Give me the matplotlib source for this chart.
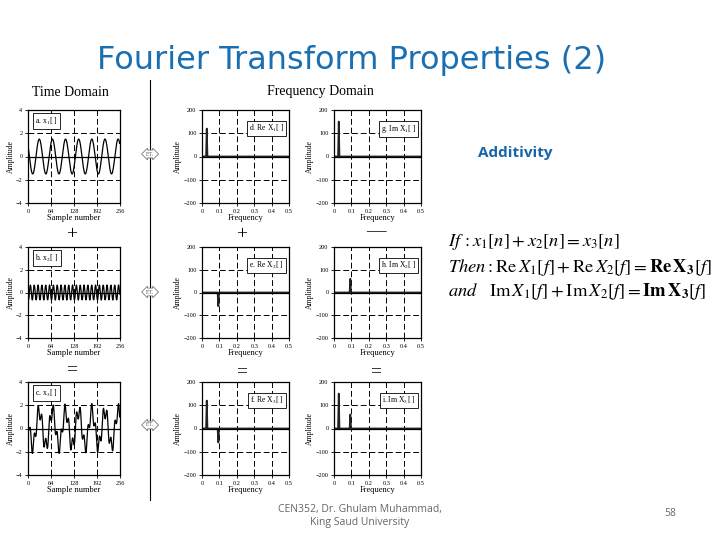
import numpy as np
import matplotlib
matplotlib.use("Agg")
import matplotlib.pyplot as plt
from matplotlib.lines import Line2D

# spectra: bin -> value (N = 256 samples, 129 bins)
N = 256
re_x1_spikes = {7: 120}
im_x1_spikes = {7: 150}
re_x2_spikes = {24: -60}
im_x2_spikes = {24: 60}

time_ticks = [0, 64, 128, 192, 256]
time_yticks = [-4, -2, 0, 2, 4]
freq_ticks = [0, 0.1, 0.2, 0.3, 0.4, 0.5]
freq_yticks = [-200, -100, 0, 100, 200]

time_labels = ["a. x$_1$[ ]", "b. x$_2$[ ]", "c. x$_3$[ ]"]
re_labels = ["d. Re X$_1$[ ]", "e. Re X$_2$[ ]", "f. Re X$_3$[ ]"]
im_labels = ["g. Im X$_1$[ ]", "h. Im X$_2$[ ]", "i. Im X$_3$[ ]"]


def spectrum(spikes):
    s = np.zeros(N // 2 + 1)
    for k, v in spikes.items():
        s[k] = v
    return s


re1, im1 = spectrum(re_x1_spikes), spectrum(im_x1_spikes)
re2, im2 = spectrum(re_x2_spikes), spectrum(im_x2_spikes)
re3, im3 = re1 + re2, im1 + im2
freqs = np.arange(N // 2 + 1) / N

# time signals are the synthesis of the spectra above
x1 = np.fft.irfft(re1 + 1j * im1, n=N)
x2 = np.fft.irfft(re2 + 1j * im2, n=N)
x3 = x1 + x2

plt.rcParams['font.family'] = ['Liberation Serif', 'DejaVu Serif']
plt.rcParams['mathtext.fontset'] = 'stix'

fig = plt.figure(figsize=(7.2, 5.4), dpi=100)
W, H = 720, 540


def box(l, t, r, b):
    return [l / W, 1 - b / H, (r - l) / W, (b - t) / H]


def ftext(x, y, s, **kw):
    return fig.text(x / W, 1 - y / H, s, **kw)


def style(ax, xt, yt, xlab):
    ax.set_xticks(xt)
    ax.set_yticks(yt)
    ax.set_xticklabels([str(v) for v in xt])
    ax.tick_params(labelsize=4.5, length=2, width=0.6, pad=2)
    for sp in ax.spines.values():
        sp.set_linewidth(0.9)
    ax.grid(True, color='black', ls=(0, (6, 3)), lw=0.7)
    ax.axhline(0, color='black', lw=0.9)
    ax.set_ylabel("Amplitude", fontsize=5.5, labelpad=1)
    ax.set_xlabel(xlab, fontsize=6, labelpad=0)


rows_y = [(110, 203), (247, 338), (382, 475)]
signals = [x1, x2, x3]
re_s = [re1, re2, re3]
im_s = [im1, im2, im3]

for i, (t, b) in enumerate(rows_y):
    ax = fig.add_axes(box(28, t, 120, b))
    ax.plot(np.arange(N), signals[i], color='black', lw=0.9)
    ax.set_xlim(0, 256)
    ax.set_ylim(-4, 4)
    style(ax, time_ticks, time_yticks, "Sample number")
    ax.text(0.08, 0.88, time_labels[i], transform=ax.transAxes, fontsize=5.5,
            va='center', bbox=dict(fc='white', ec='black', lw=0.6, pad=1.5))

    ax = fig.add_axes(box(202, t, 289, b))
    ax.plot(freqs, re_s[i], color='#222222', lw=1.3)
    ax.set_xlim(0, 0.5)
    ax.set_ylim(-200, 200)
    style(ax, freq_ticks, freq_yticks, "Frequency")
    ax.text(0.94, 0.80, re_labels[i], transform=ax.transAxes, fontsize=5.5,
            ha='right', va='center', bbox=dict(fc='white', ec='black', lw=0.6, pad=1.5))

    ax = fig.add_axes(box(334, t, 421, b))
    ax.plot(freqs, im_s[i], color='#222222', lw=1.3)
    ax.set_xlim(0, 0.5)
    ax.set_ylim(-200, 200)
    style(ax, freq_ticks, freq_yticks, "Frequency")
    ax.text(0.94, 0.80, im_labels[i], transform=ax.transAxes, fontsize=5.5,
            ha='right', va='center', bbox=dict(fc='white', ec='black', lw=0.6, pad=1.5))

# title and headers
ftext(352, 60, "Fourier Transform Properties (2)", fontsize=23, color='#1a6fb3',
      ha='center', va='center', family='DejaVu Sans')
ftext(70, 92, "Time Domain", fontsize=10, ha='center', va='center')
ftext(320, 92, "Frequency Domain", fontsize=10, ha='center', va='center')

# operators between rows
for x, s, y in [(72, "+", 235), (242, "+", 235), (376, "\u2014", 232),
                (72, "=", 370), (242, "=", 372), (376, "=", 372)]:
    ftext(x, y, s, fontsize=14, ha='center', va='center')

# divider and FT arrows
fig.add_artist(Line2D([150 / W, 150 / W], [1 - 80 / H, 1 - 500 / H], color='black', lw=0.8))
for y in [154, 292, 425]:
    ftext(150, y, "F.T.", fontsize=4, ha='center', va='center', color='#555555',
          bbox=dict(boxstyle='darrow,pad=0.25', fc='white', ec='#777777', lw=0.6))

ftext(515, 153, "Additivity", fontsize=11, color='#1565a8', ha='center', va='center',
      family='Open Sans', fontweight='bold')

eq_kw = dict(fontsize=13.3, ha='left', va='center')
ftext(448, 242, r"$If\,:x_1[n]+x_2[n]=x_3[n]$", **eq_kw)
ftext(448, 267, r"$Then:\mathrm{Re}\,X_1[f]+\mathrm{Re}\,X_2[f]=\mathbf{Re}\,\mathbf{X_3}[f]$", **eq_kw)
ftext(448, 292, r"$and\quad\mathrm{Im}\,X_1[f]+\mathrm{Im}\,X_2[f]=\mathbf{Im}\,\mathbf{X_3}[f]$", **eq_kw)

ftext(360, 516, "CEN352, Dr. Ghulam Muhammad,\nKing Saud University", fontsize=7.5,
      color='#666666', ha='center', va='center', family='Open Sans', linespacing=1.2)
ftext(670, 514, "58", fontsize=7.5, color='#666666', ha='center', va='center', family='Open Sans')

fig.savefig("out.png", dpi=100)
